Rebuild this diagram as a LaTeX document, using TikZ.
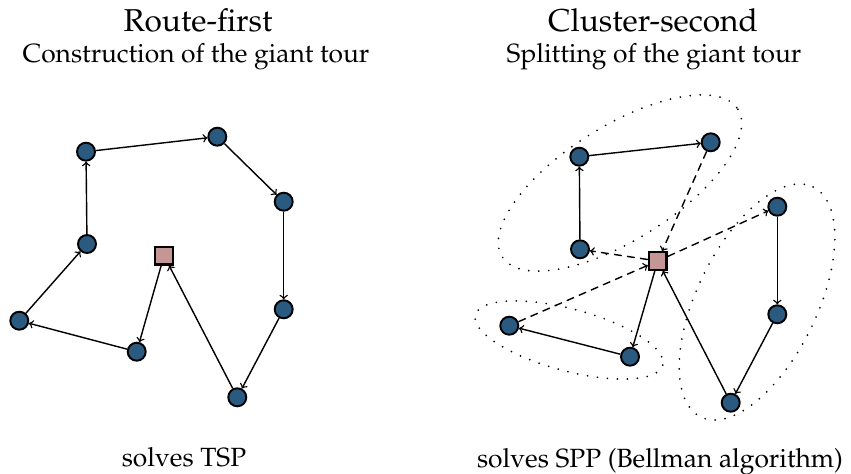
\documentclass[tikz,border=0pt]{standalone}
\usepackage[T1]{fontenc}
\usepackage{mathpazo}
\usepackage{tikz}

\definecolor{clientblue}{RGB}{42,90,128}
\definecolor{depotpink}{RGB}{196,150,150}

\begin{document}
\begin{tikzpicture}[x=0.02cm, y=-0.02cm,
        client/.style = {circle, draw = black, line width = 1.1pt, fill = clientblue, minimum size = 0.36cm, inner sep = 0pt},
        depot/.style = {rectangle, draw = black, line width = 1.3pt, fill = depotpink, minimum size = 0.35cm, inner sep = 0pt},
        arc/.style = {line width = 0.8pt, ->},
        trip/.style = {line width = 0.8pt, ->, dash pattern = on 4.5pt off 3pt},
        cluster/.style = {line width = 1.1pt, dash pattern = on 0pt off 5.7pt, line cap = round}]
        \useasboundingbox (0,0) rectangle (851,473);

        % titles
        \node[anchor = base, font = \fontsize{18}{21}\selectfont] (titleL) at (198,31.7) {Route-first};
        \node[anchor = base, font = \fontsize{15}{18}\selectfont] (subL) at (196,63) {Construction of the giant tour};
        \node[anchor = base, font = \fontsize{18}{21}\selectfont] (titleR) at (653,31.7) {Cluster-second};
        \node[anchor = base, font = \fontsize{15}{18}\selectfont] (subR) at (654,63) {Splitting of the giant tour};

        % clusters of the split
        \draw[cluster, rotate around = {32:(620,183)}] (620,183) ellipse [x radius = 139, y radius = 57];
        \draw[cluster, rotate around = {64:(757,302)}] (757,302) ellipse [x radius = 128, y radius = 60];
        \draw[cluster, rotate around = {-15:(569,340)}] (569,340) ellipse [x radius = 97, y radius = 31];

        % giant tour
        \node[depot] (dL) at (164,255.7) {};
        \node[client] (l1) at (136.7,351.7) {};
        \node[client] (l2) at (19.3,320.7) {};
        \node[client] (l3) at (87,244) {};
        \node[client] (l4) at (86,151.7) {};
        \node[client] (l5) at (217.3,136.7) {};
        \node[client] (l6) at (283.7,201.7) {};
        \node[client] (l7) at (283.7,309.3) {};
        \node[client] (l8) at (237.3,397.3) {};

        \draw[arc] (dL) -- (l1);
        \draw[arc] (l1) -- (l2);
        \draw[arc] (l2) -- (l3);
        \draw[arc] (l3) -- (l4);
        \draw[arc] (l4) -- (l5);
        \draw[arc] (l5) -- (l6);
        \draw[arc] (l6) -- (l7);
        \draw[arc] (l7) -- (l8);
        \draw[arc] (l8) -- (dL);

        % split into trips
        \node[depot] (dR) at (657.7,261) {};
        \node[client] (r1) at (630,356.7) {};
        \node[client] (r2) at (509.3,325.7) {};
        \node[client] (r3) at (580,249.3) {};
        \node[client] (r4) at (579.3,156.7) {};
        \node[client] (r5) at (710.7,142.3) {};
        \node[client] (r6) at (777.3,206.7) {};
        \node[client] (r7) at (777.3,314.3) {};
        \node[client] (r8) at (730.7,402.7) {};

        \draw[arc] (dR) -- (r1);
        \draw[arc] (r1) -- (r2);
        \draw[trip] (r2) -- (dR);
        \draw[trip] (dR) -- (r3);
        \draw[arc] (r3) -- (r4);
        \draw[arc] (r4) -- (r5);
        \draw[trip] (r5) -- (dR);
        \draw[trip] (dR) -- (r6);
        \draw[arc] (r6) -- (r7);
        \draw[arc] (r7) -- (r8);
        \draw[arc] (r8) -- (dR);

        % methods
        \node[anchor = base, font = \fontsize{15}{18}\selectfont] (solveL) at (184,466.7) {solves TSP};
        \node[anchor = base, font = \fontsize{15}{18}\selectfont] (solveR) at (660,467) {solves SPP (Bellman algorithm)};
\end{tikzpicture}
\end{document}
